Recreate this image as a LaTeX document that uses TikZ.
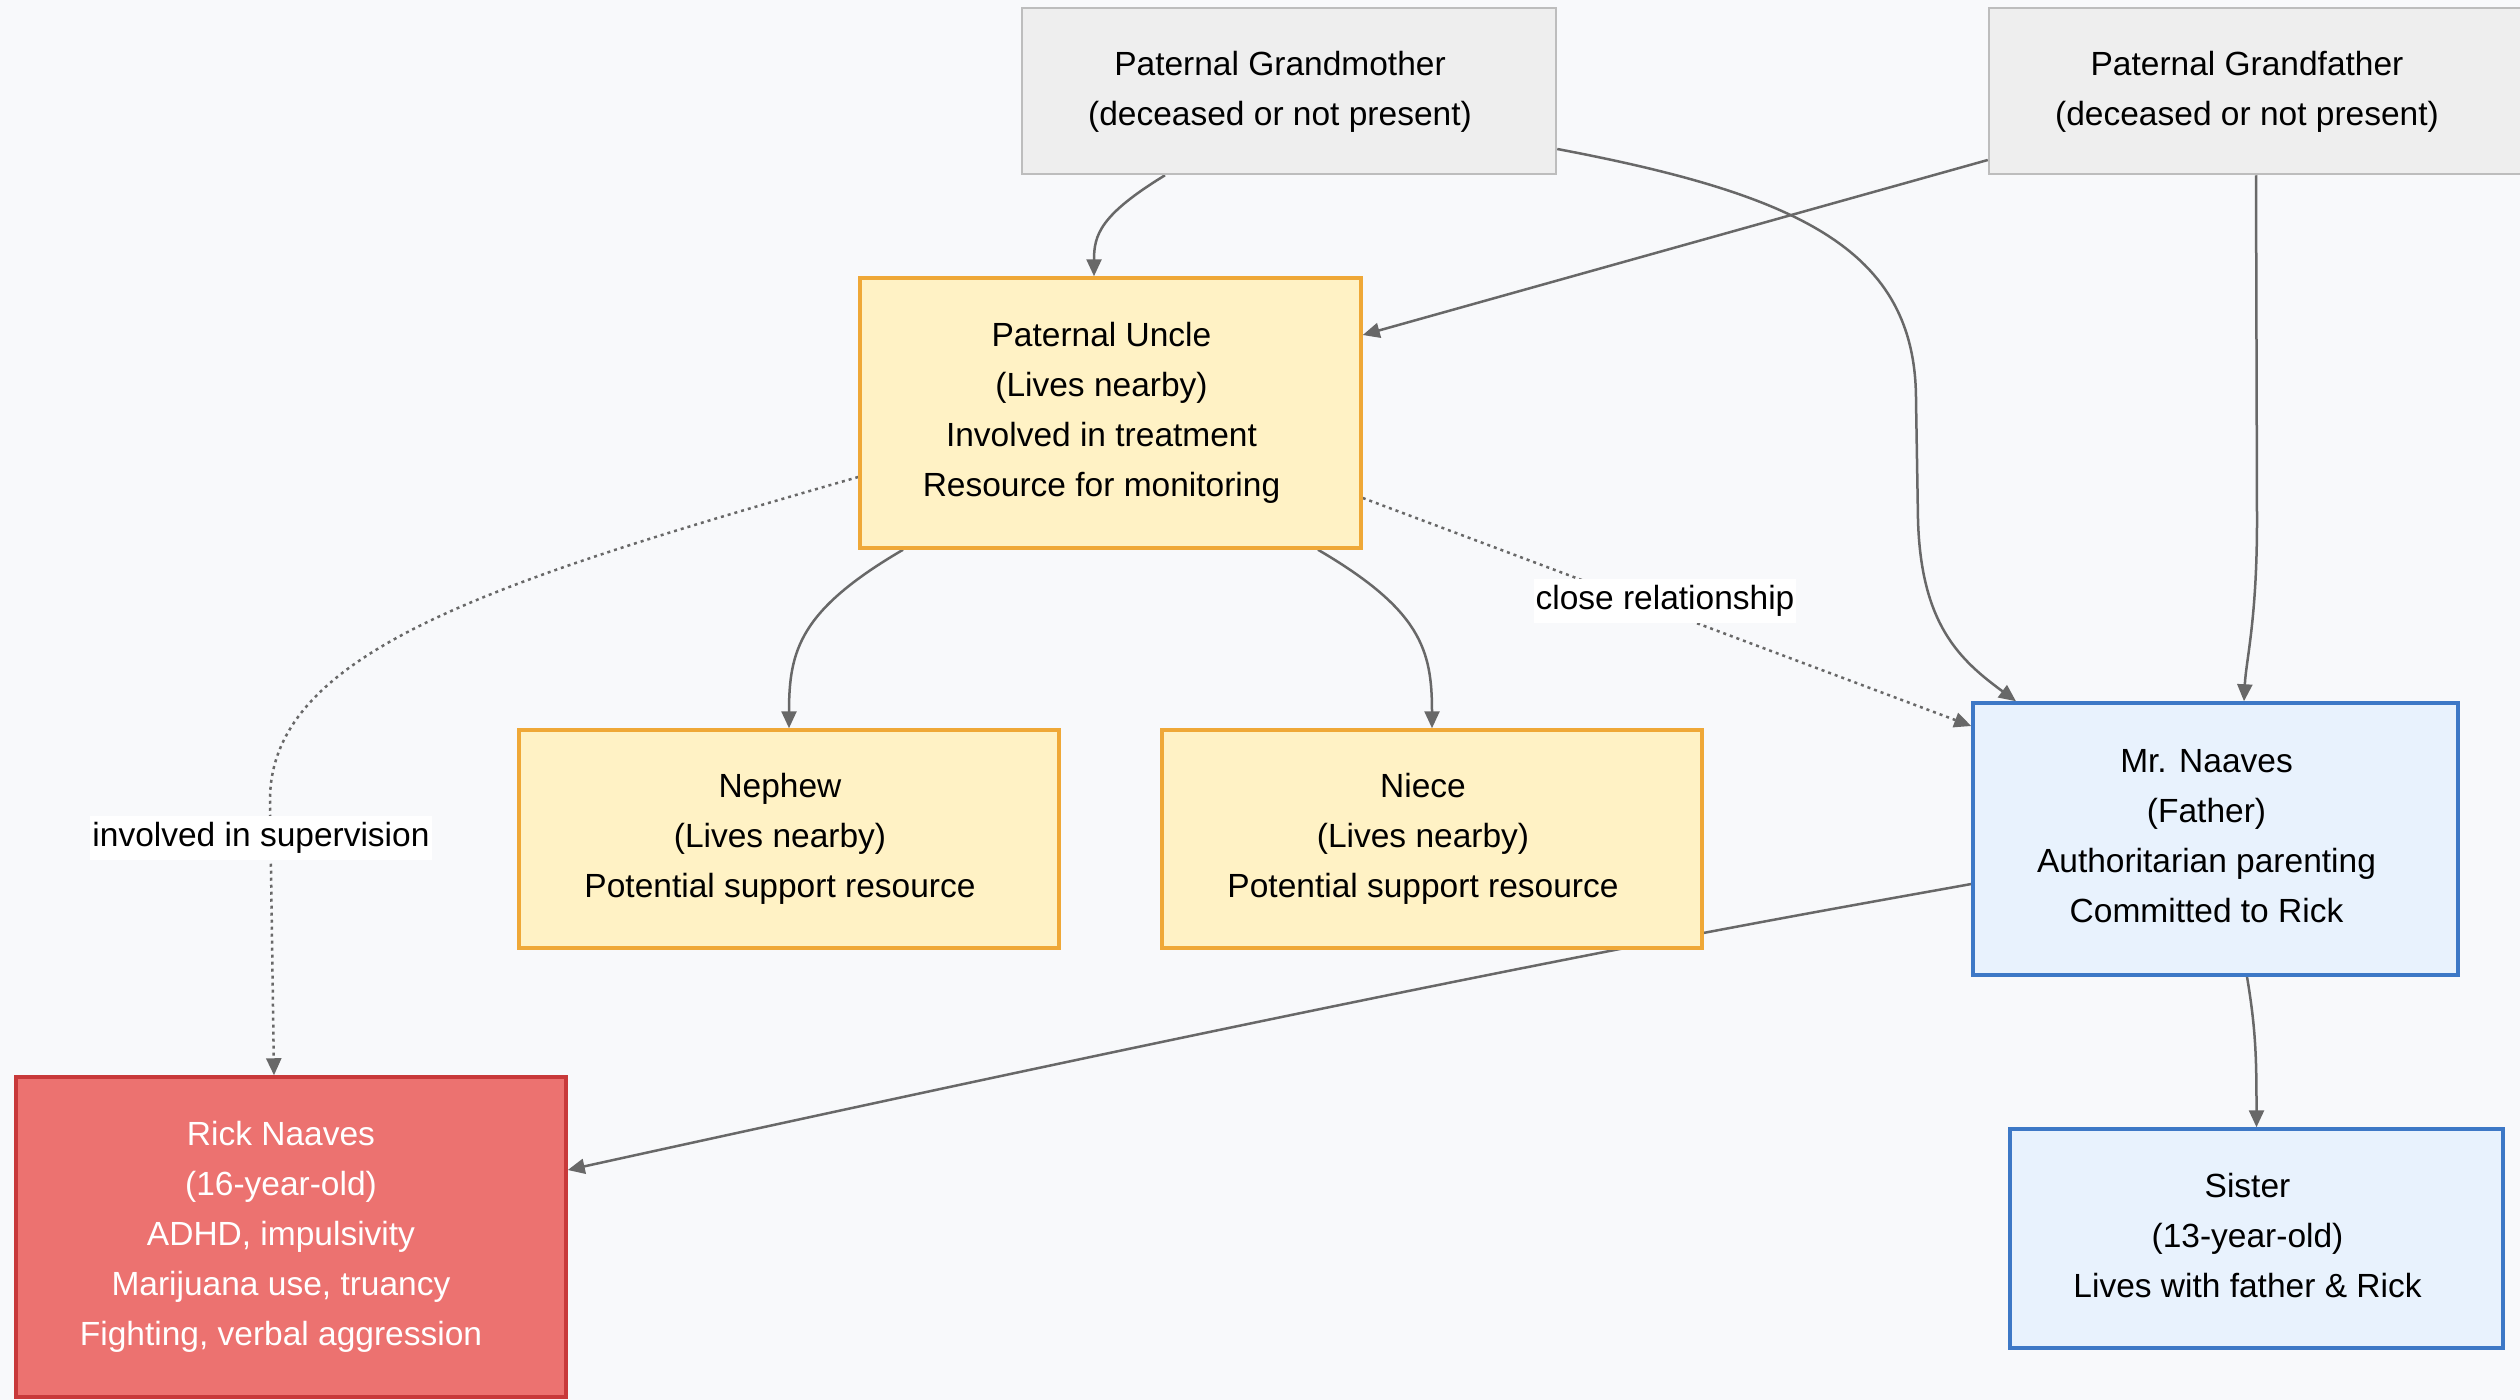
\documentclass[tikz,border=0pt]{standalone}
\usepackage{fontspec}
\setmainfont{Liberation Sans}
\usetikzlibrary{arrows.meta,calc}

\definecolor{canvas}{HTML}{F8F9FB}
\definecolor{greyfill}{HTML}{EEEEEE}
\definecolor{greyline}{HTML}{BDBDBD}
\definecolor{yelfill}{HTML}{FFF2C5}
\definecolor{yelline}{HTML}{EFA837}
\definecolor{bluefill}{HTML}{E8F2FD}
\definecolor{blueline}{HTML}{3D78C6}
\definecolor{redfill}{HTML}{EC7270}
\definecolor{redline}{HTML}{C8393A}
\definecolor{edgecol}{HTML}{686868}

\pgfdeclarelayer{paper}
\pgfdeclarelayer{links}
\pgfsetlayers{paper,links,main}

\tikzset{
  box/.style={rectangle, draw, inner sep=0pt, line width=3.5pt},
  greybox/.style={box, fill=greyfill, draw=greyline, line width=2.5pt,
    minimum width=534pt, minimum height=166pt},
  yelbox/.style={box, fill=yelfill, draw=yelline},
  bluebox/.style={box, fill=bluefill, draw=blueline},
  redbox/.style={box, fill=redfill, draw=redline},
  boxtext/.style={inner sep=0pt, align=center,
    font=\fontsize{33.5}{50}\selectfont},
  link/.style={draw=edgecol, line width=2.5pt,
    -{Triangle[length=17pt,width=15pt]}},
  dotlink/.style={link, dash pattern=on 3pt off 4pt},
  tag/.style={fill=white, inner xsep=2pt, inner ysep=6pt,
    font=\fontsize{33.5}{40}\selectfont},
}

\begin{document}
\begin{tikzpicture}[x=1pt,y=-1pt]
\begin{pgfonlayer}{paper}
  \fill[canvas] (0,0) rectangle (2520,1400);
\end{pgfonlayer}
\useasboundingbox (0,0) rectangle (2520,1400);

% family member boxes
\node[greybox] (gm) at (1289,91) {};
\node[greybox] (gf) at (2256,91) {};
\node[yelbox, minimum width=501pt, minimum height=270pt] (uncle) at (1110.5,413) {};
\node[yelbox, minimum width=540pt, minimum height=218pt] (nephew) at (789,839) {};
\node[yelbox, minimum width=540pt, minimum height=218pt] (niece) at (1432,839) {};
\node[bluebox, minimum width=485pt, minimum height=272pt] (father) at (2215.5,839) {};
\node[redbox, minimum width=550pt, minimum height=320pt] (rick) at (291,1237) {};
\node[bluebox, minimum width=493pt, minimum height=219pt] (sister) at (2256.5,1238.5) {};

% box texts
\node[boxtext] (gmtext) at ([xshift=-9pt,yshift=-1pt]gm.center)
  {Paternal Grandmother\\(deceased or not present)};
\node[boxtext] (gftext) at ([xshift=-9pt,yshift=-1pt]gf.center)
  {Paternal Grandfather\\(deceased or not present)};
\node[boxtext] (uncletext) at ([xshift=-9pt]uncle.center)
  {Paternal Uncle\\(Lives nearby)\\Involved in treatment\\Resource for monitoring};
\node[boxtext] (nephewtext) at ([xshift=-9pt]nephew.center)
  {Nephew\\(Lives nearby)\\Potential support resource};
\node[boxtext] (niecetext) at ([xshift=-9pt]niece.center)
  {Niece\\(Lives nearby)\\Potential support resource};
\node[boxtext] (fathertext) at ([xshift=-9pt,yshift=3pt]father.center)
  {Mr. Naaves\\(Father)\\Authoritarian parenting\\Committed to Rick};
\node[boxtext, text=white] (ricktext) at ([xshift=-10pt]rick.center)
  {Rick Naaves\\(16-year-old)\\ADHD, impulsivity\\Marijuana use, truancy\\Fighting, verbal aggression};
\node[boxtext] (sistertext) at ([xshift=-9pt,yshift=3pt]sister.center)
  {Sister\\(13-year-old)\\Lives with father \& Rick};

% connections
\begin{pgfonlayer}{links}
  \draw[link] ([xshift=-124pt]gm.south) .. controls (1100,215) and (1094,235)
    .. ([xshift=-16.5pt]uncle.north);
  \draw[link] ([yshift=-69pt]gf.west) -- ([yshift=78pt]uncle.east);
  \draw[link] ([yshift=-58pt]gm.east) .. controls (1800,195) and (1916,250)
    .. (1916,400) -- (1918,520) .. controls (1921,625) and (1960,660)
    .. ([xshift=-199.5pt]father.north);
  \draw[link] (gf.south) -- (2257,520) .. controls (2257,620) and (2246,660)
    .. ([xshift=28.5pt]father.north);
  \draw[link] ([xshift=-207.5pt]uncle.south) .. controls (800,610) and (789,650)
    .. (nephew.north);
  \draw[link] ([xshift=207.5pt]uncle.south) .. controls (1421,610) and (1432,650)
    .. (niece.north);
  \draw[dotlink] ([yshift=-85pt]uncle.east) -- ([yshift=113pt]father.west);
  \draw[dotlink] ([yshift=-64pt]uncle.west) .. controls (500,580) and (270,650)
    .. (270,800) -- ([xshift=-17pt]rick.north);
  \draw[link] ([yshift=-45pt]father.west) .. controls (1800,915) and (1500,965)
    .. ([yshift=67pt]rick.east);
  \draw[link] ([xshift=31.5pt]father.south) .. controls (2256,1030) and (2256.5,1060)
    .. (sister.north);
\end{pgfonlayer}

% edge captions
\node[tag] (supervision) at (261,838) {involved in supervision};
\node[tag] (closerel) at (1665,601) {close relationship};
\end{tikzpicture}
\end{document}
